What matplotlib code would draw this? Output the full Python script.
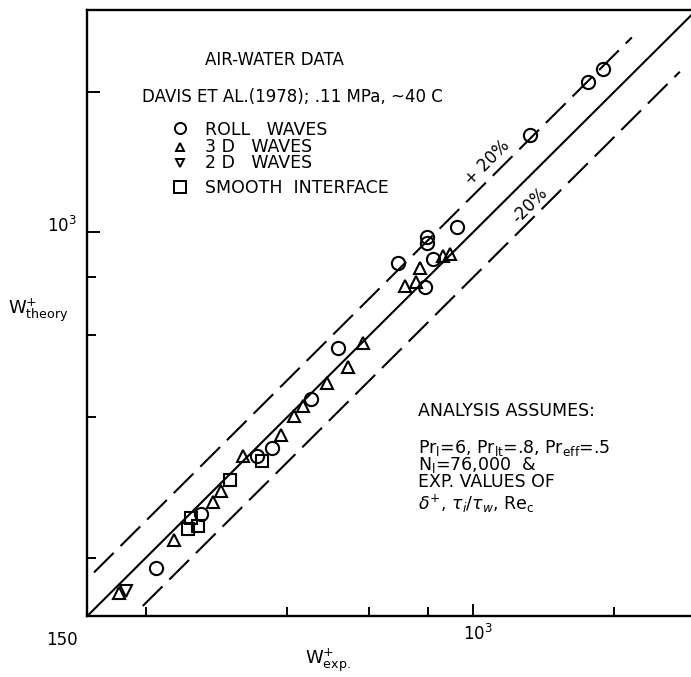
import matplotlib
matplotlib.use('Agg')
import matplotlib.pyplot as plt
from matplotlib.lines import Line2D
from matplotlib.ticker import FixedLocator, NullFormatter

# ---- data ----
roll_x = [210, 262, 345, 371, 450, 515, 692, 795, 795, 822, 925, 789, 1321, 1760, 1895]
roll_y = [190, 248, 330, 344, 438, 563, 857, 978, 946, 874, 1024, 763, 1616, 2103, 2235]
w3d_x = [175, 230, 278, 289, 322, 389, 415, 433, 487, 541, 581, 770, 715, 755, 863, 892]
w3d_y = [168, 218, 264, 278, 331, 367, 402, 423, 475, 513, 577, 836, 766, 782, 888, 896]
w2d_x = [181]
w2d_y = [170]
smooth_x = [246, 258, 250, 303, 354]
smooth_y = [231, 234, 243, 294, 323]

# reference lines: perfect agreement and +/-20 %
line_ratio = [1.0, 1.2, 0.8]
line_xstart = [150, 155, 197]
line_xend = [3000, 2180, 2760]

axis_min, axis_max = 150, 3000
x_major = [1000]
x_minor = [200, 400, 600, 800, 2000]
y_major = [1000, 2000]
y_minor = [200, 400, 600, 800]

W, H = 691, 677
plt.rcParams['font.family'] = ['DejaVu Sans']
plt.rcParams['mathtext.fontset'] = 'dejavusans'
plt.rcParams['lines.scale_dashes'] = False
FS = 12

fig = plt.figure(figsize=(W / 100, H / 100), dpi=100)
ax = fig.add_axes([87.3 / W, (H - 616) / H, (696.8 - 87.3) / W, (616 - 9.7) / H])
ax.set_xscale('log')
ax.set_yscale('log')
ax.set_xlim(axis_min, axis_max)
ax.set_ylim(axis_min, axis_max)

for r, xs, xe in zip(line_ratio, line_xstart, line_xend):
    ls = '-' if r == 1.0 else (0, (20, 7))
    ax.plot([xs, xe], [xs * r, xe * r], color='black', lw=1.5, ls=ls,
            solid_capstyle='butt', dash_capstyle='butt')

mk = dict(mfc='none', mec='black', mew=1.5, ls='none')
ax.plot(roll_x, roll_y, marker='o', ms=9.5, **mk)
ax.plot(w3d_x, w3d_y, marker='^', ms=8.5, **mk)
ax.plot(w2d_x, w2d_y, marker='v', ms=8.5, **mk)
ax.plot(smooth_x, smooth_y, marker='s', ms=9.0, **mk)

for s in ['left', 'bottom', 'top']:
    ax.spines[s].set_linewidth(1.7)
ax.spines['right'].set_visible(False)

ax.xaxis.set_major_locator(FixedLocator(x_major))
ax.xaxis.set_minor_locator(FixedLocator(x_minor))
ax.yaxis.set_major_locator(FixedLocator(y_major))
ax.yaxis.set_minor_locator(FixedLocator(y_minor))
for a in (ax.xaxis, ax.yaxis):
    a.set_major_formatter(NullFormatter())
    a.set_minor_formatter(NullFormatter())
ax.tick_params(which='both', direction='in', width=1.4, top=False, right=False)
ax.tick_params(which='major', length=9)
ax.tick_params(which='minor', length=6.5)


def ftext(px, py, s, **kw):
    kw.setdefault('fontsize', FS)
    return fig.text(px / W, 1 - py / H, s, **kw)


# axis labels & tick labels
ftext(62, 640, '150', ha='center', va='center')
ftext(62, 226, r'$\mathregular{10^3}$', ha='center', va='center')
ftext(478, 634, r'$\mathregular{10^3}$', ha='center', va='center')
ftext(38, 310, r'$\mathregular{W^{+}_{theory}}$', ha='center', va='center', fontsize=13)
ftext(328, 660, r'$\mathregular{W^{+}_{exp.}}$', ha='center', va='center', fontsize=13)

# header
ftext(205, 65, 'AIR-WATER DATA', ha='left', va='baseline')
ftext(142, 102, 'DAVIS ET AL.(1978); .11 MPa, ~40 C', ha='left', va='baseline')

# legend
leg_labels = ['ROLL   WAVES', '3 D   WAVES', '2 D   WAVES', 'SMOOTH  INTERFACE']
leg_markers = ['o', '^', 'v', 's']
leg_ms = [8, 6, 6, 8]
leg_text_y = [135, 152, 168, 193]
leg_mark_y = [128, 147, 163, 187]
for lab, m, ms, ty, my in zip(leg_labels, leg_markers, leg_ms, leg_text_y, leg_mark_y):
    fig.add_artist(Line2D([180 / W], [1 - my / H], transform=fig.transFigure,
                          marker=m, ms=ms, mfc='none', mec='black', mew=1.4, ls='none'))
    ftext(205, ty, lab, ha='left', va='baseline', fontsize=12.5)

# band labels
ftext(487, 163, '+ 20%', ha='center', va='center', rotation=45)
ftext(530, 205, '-20%', ha='center', va='center', rotation=45)

# analysis notes
ftext(418, 416, 'ANALYSIS ASSUMES:', ha='left', va='baseline', fontsize=12.5)
ftext(418, 453, r'Pr$_{\mathregular{l}}$=6, Pr$_{\mathregular{lt}}$=.8, Pr$_{\mathregular{eff}}$=.5',
      ha='left', va='baseline', fontsize=12.5)
ftext(418, 470, r'N$_{\mathregular{l}}$=76,000  &', ha='left', va='baseline', fontsize=12.5)
ftext(418, 487, 'EXP. VALUES OF', ha='left', va='baseline', fontsize=12.5)
ftext(418, 510, r'$\delta^{+}$, $\tau_i/\tau_w$, Re$_{\mathregular{c}}$', ha='left', va='baseline',
      fontsize=12.5)

fig.savefig('out.png', dpi=100)
